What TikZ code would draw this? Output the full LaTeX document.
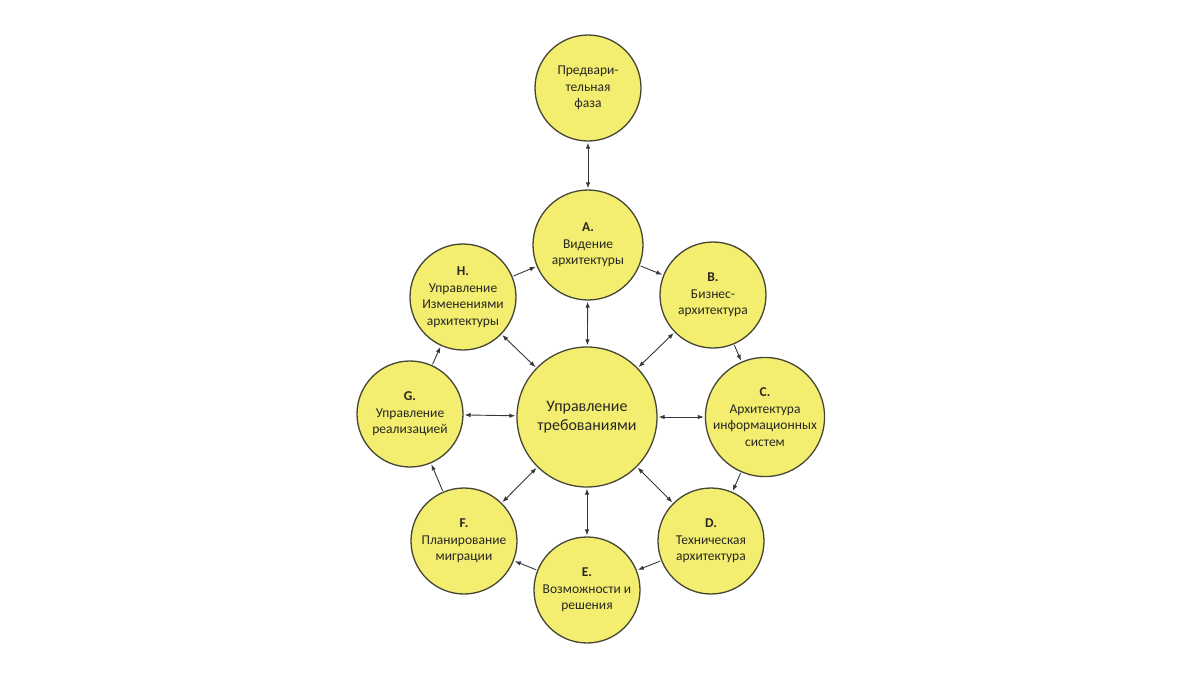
\documentclass[tikz,border=0pt]{standalone}
\usepackage{fontspec}
\setmainfont{Carlito}
\usetikzlibrary{arrows.meta}
\definecolor{circfill}{RGB}{243,237,112}
\definecolor{circline}{RGB}{70,70,55}
\definecolor{arrcol}{RGB}{55,55,60}
\definecolor{txtcol}{RGB}{40,40,35}
\begin{document}
\begin{tikzpicture}[x=1pt,y=-1pt,
  phase/.style={circle,draw=circline,fill=circfill,line width=1.3pt,inner sep=0pt,
    minimum size=#1,align=center,text=txtcol,font=\fontsize{13.5}{16.5}\selectfont},
  phase/.default=106pt,
  conn/.style={draw=arrcol,line width=0.9pt,-{Latex[length=6pt,width=4.5pt]},shorten >=1pt,shorten <=1pt},
  bconn/.style={draw=arrcol,line width=0.9pt,{Latex[length=6pt,width=4.5pt]}-{Latex[length=6pt,width=4.5pt]},shorten >=1pt,shorten <=1pt}]
\useasboundingbox (0,0) rectangle (1200,675);
\fill[white] (0,0) rectangle (1200,675);
\node[phase] (pre) at (588,88) {Предвари-\\тельная\\фаза};
\node[phase=110pt] (A) at (588,245) {\textbf{A.}\\Видение\\архитектуры};
\node[phase] (B) at (713,295) {\textbf{B.}\\Бизнес-\\архитектура};
\node[phase=112pt] (C) at (765,417) {\textbf{C.}\\Архитектура\\информационных\\систем};
\node[phase] (D) at (711,541) {\textbf{D.}\\Техническая\\архитектура};
\node[phase] (E) at (587,590) {\textbf{E.}\\Возможности и\\решения};
\node[phase] (F) at (464,541) {\textbf{F.}\\Планирование\\миграции};
\node[phase] (G) at (410,414) {\textbf{G.}\\Управление\\реализацией};
\node[phase] (H) at (463,297) {\textbf{H.}\\Управление\\Изменениями\\архитектуры};
\node[phase=140pt,font=\fontsize{16}{19.5}\selectfont] (R) at (587,417) {Управление\\требованиями};
\draw[bconn] (pre) -- (A);
\draw[conn] (A) -- (B);
\draw[conn] (B) -- (C);
\draw[conn] (C) -- (D);
\draw[conn] (D) -- (E);
\draw[conn] (E) -- (F);
\draw[conn] (F) -- (G);
\draw[conn] (G) -- (H);
\draw[conn] (H) -- (A);
\foreach \n in {A,B,C,D,E,F,G,H} \draw[bconn] (R) -- (\n);
\end{tikzpicture}
\end{document}
